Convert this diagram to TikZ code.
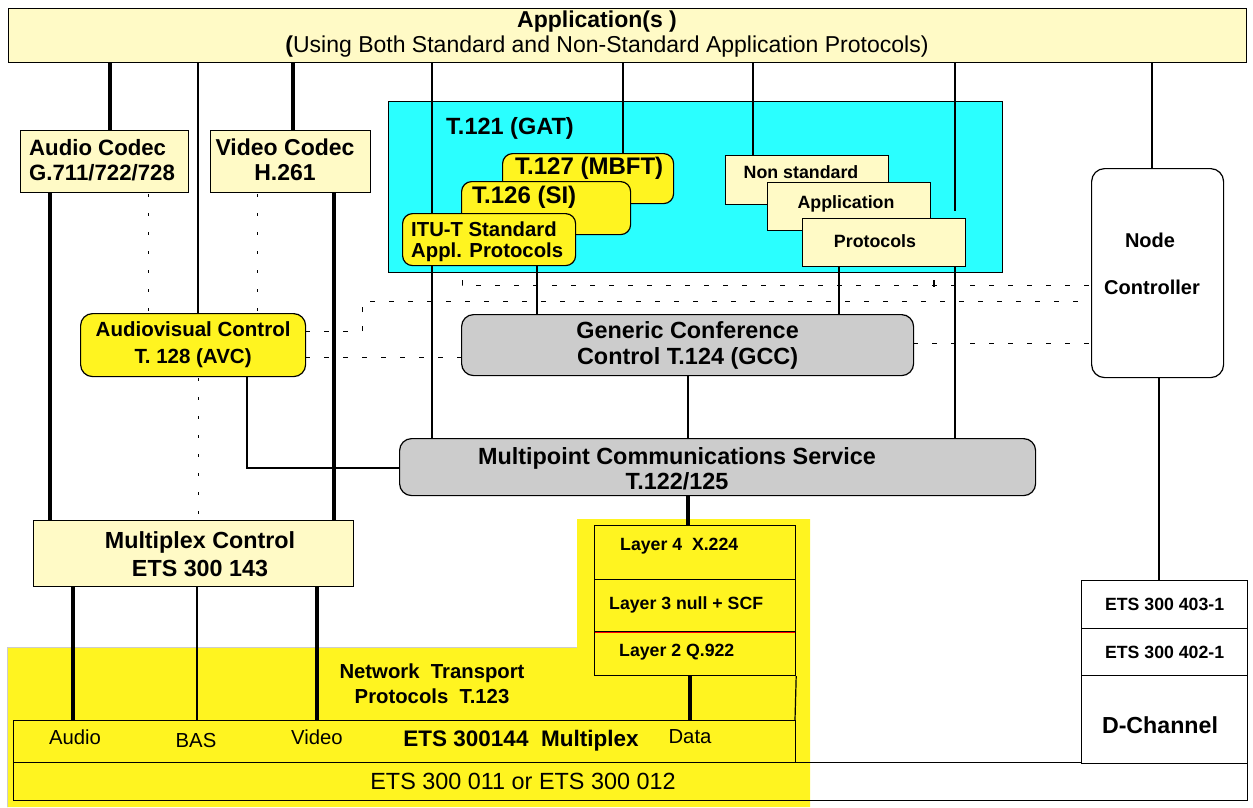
\documentclass[tikz,border=0pt]{standalone}
\usepackage{fontspec}
\setmainfont{Liberation Sans}
\definecolor{lyel}{RGB}{255,250,198}
\definecolor{cyanb}{RGB}{42,255,255}
\definecolor{yel}{RGB}{255,244,32}
\definecolor{greyb}{RGB}{204,204,204}
\newcommand{\fs}[2]{\fontsize{#1}{#2}\selectfont}
\begin{document}
\begin{tikzpicture}[x=1pt,y=-1pt,
  box/.style={draw, line width=1.2pt, inner sep=0pt, anchor=north west, align=center},
  rbox/.style={box, rounded corners=12pt},
  thin/.style={line width=1.1pt},
  thickl/.style={line width=4.5pt},
  dotl/.style={line width=1pt, dash pattern=on 3pt off 16pt},
  dsh/.style={line width=1pt, dash pattern=on 5pt off 14pt},
  txt/.style={inner sep=0pt, font=\bfseries, align=center}
]
\useasboundingbox (0,0) rectangle (1253,807);
% lanes
\foreach \n/\x in {50/50,73/73,110/110,148/148,197/197,198/198,247/247,257/257,293/293,317/317,334/334,432/432,537/537,623/623,688/688,690/690,753/753,839/839,955/955,1152/1152,1159/1159}
  {\coordinate (L\n) at (\x,0);}
% yellow transport region
\fill[yel] (577,519) -- (810,519) -- (810,807) -- (7,807) -- (7,647) -- (577,647) -- cycle;
\draw[gray!40, line width=1pt] (7,807) -- (7,647) -- (577,647);
% top application box
\node[box, fill=lyel, minimum width=1238pt, minimum height=54pt] (app) at (8,8) {};
\node[txt, font=\bfseries\fs{23}{26}] (appt1) at (597,22) {Application(s )};
\node[txt, font=\fs{23}{26}] (appt2) at (607,47) {\textbf{(}Using Both Standard and Non-Standard Application Protocols)};
% T.121 cyan box
\node[box, fill=cyanb, minimum width=614pt, minimum height=171pt] (t121) at (388,101) {};
\node[txt, anchor=west, font=\bfseries\fs{23.5}{26}] (gat) at (446,128) {T.121 (GAT)};
% lines
\draw[thickl] (app.south -| L110) -- (L110 |- 0,130);
\draw[thickl] (app.south -| L293) -- (L293 |- 0,130);
\draw[thin] (app.south -| L198) -- (L198 |- 0,313);
\draw[thin] (app.south -| L432) -- (L432 |- 0,438);
\draw[thin] (app.south -| L623) -- (L623 |- 0,153);
\draw[thin] (app.south -| L753) -- (L753 |- 0,155);
\coordinate (e955) at (955,211);
\draw[thin] (app.south -| L955) -- (e955);
\draw[thin] (app.south -| L1152) -- (L1152 |- 0,168);
\draw[thin] (L955 |- 0,266) -- (L955 |- 0,438);
\draw[thin] (L537 |- 0,265) -- (L537 |- 0,314);
\draw[thin] (L839 |- 0,266) -- (L839 |- 0,314);
\draw[thin] (L688 |- 0,375) -- (L688 |- 0,438);
\draw[thin] (L1159 |- 0,377) -- (L1159 |- 0,580);
\draw[thickl] (L50 |- 0,192) -- (L50 |- 0,520);
\draw[thickl] (L334 |- 0,192) -- (L334 |- 0,520);
\draw[dotl] (L148 |- 0,194) -- (L148 |- 0,313);
\draw[dotl] (L257 |- 0,194) -- (L257 |- 0,313);
\draw[dotl] (L198 |- 0,378) -- (L198 |- 0,520);
\draw[thin] (L247 |- 0,376) |- (399,468);
\draw[thickl] (L688 |- 0,495) -- (L688 |- 0,525);
\draw[thickl] (L690 |- 0,675) -- (L690 |- 0,720);
\draw[thickl] (L73 |- 0,586) -- (L73 |- 0,720);
\draw[thin] (L197 |- 0,586) -- (L197 |- 0,720);
\draw[thickl] (L317 |- 0,586) -- (L317 |- 0,720);
% dashed signalling lines
\coordinate (d1s) at (462,280); \coordinate (d1) at (462,285);
\draw[dsh] (d1s) -- (d1) -- (1091,285);
\coordinate (tk) at (934,280);
\draw[line width=1.6pt] (tk) -- (934,287);
\coordinate (d2) at (362,301); \coordinate (d2b) at (362,331);
\draw[dsh] (305,331) -- (d2b) -- (d2) -- (1091,301);
\draw[dsh] (305,357) -- (461,357);
\draw[dsh] (913,343) -- (1091,343);
% codecs
\node[box, fill=lyel, minimum width=168pt, minimum height=62pt] (acod) at (20,130) {};
\node[txt, anchor=west, align=left, font=\bfseries\fs{22.2}{25}] (acodt) at (29,160) {Audio Codec\\G.711/722/728};
\node[box, fill=lyel, minimum width=160pt, minimum height=62pt] (vcod) at (210,130) {};
\node[txt, font=\bfseries\fs{23}{25}] (vcodt) at (285,160) {Video Codec\\H.261};
% AVC
\node[rbox, fill=yel, minimum width=225pt, minimum height=63pt, font=\bfseries\fs{20.5}{27}] (avc) at (80,313)
  {Audiovisual Control\\T. 128 (AVC)};
% ITU protocol stack
\node[box, rounded corners=10pt, fill=yel, minimum width=171pt, minimum height=50pt] (t127) at (502,153) {};
\node[txt, anchor=west, font=\bfseries\fs{24}{26}] (t127t) at (515,168) {T.127 (MBFT)};
\node[box, rounded corners=10pt, fill=yel, minimum width=169pt, minimum height=53pt] (t126) at (461,181) {};
\node[txt, anchor=west, font=\bfseries\fs{24}{26}] (t126t) at (472,197) {T.126 (SI)};
\node[box, rounded corners=10pt, fill=yel, minimum width=173pt, minimum height=52pt] (itu) at (402,213) {};
\node[txt, anchor=west, align=left, font=\bfseries\fs{20.3}{21}] (itut) at (411,242) {ITU-T Standard\\Appl. Protocols};
% non-standard stack
\node[box, fill=lyel, minimum width=163pt, minimum height=49pt] (nons) at (725,155) {};
\node[txt, font=\bfseries\fs{17.8}{20}] (nonst) at (801,172) {Non standard};
\node[box, fill=lyel, minimum width=163pt, minimum height=48pt] (appl) at (767,182) {};
\node[txt, font=\bfseries\fs{17.8}{20}] (applt) at (846,204) {Application};
\node[box, fill=lyel, minimum width=163pt, minimum height=48pt] (prot) at (802,218) {};
\node[txt, font=\bfseries\fs{17.8}{20}] (prott) at (875,241) {Protocols};
% node controller
\node[box, rounded corners=13pt, fill=white, minimum width=132pt, minimum height=209pt] (nc) at (1091,168) {};
\node[txt, font=\bfseries\fs{20}{22}] (nct1) at (1150,240) {Node};
\node[txt, font=\bfseries\fs{20}{22}] (nct2) at (1152,287) {Controller};
% GCC and MCS
\node[rbox, fill=greyb, minimum width=452pt, minimum height=61pt, font=\bfseries\fs{23.4}{26}] (gcc) at (461,314)
  {Generic Conference\\Control T.124 (GCC)};
\node[rbox, fill=greyb, minimum width=636pt, minimum height=57pt] (mcs) at (399,438) {};
\node[txt, font=\bfseries\fs{23.4}{25}] (mcst) at (677,469) {Multipoint Communications Service\\T.122/125};
% multiplex control
\node[box, fill=lyel, minimum width=320pt, minimum height=66pt] (mc) at (33,520) {};
\node[txt, font=\bfseries\fs{23.3}{28}] (mct) at (200,554) {Multiplex Control\\ETS 300 143};
% layers
\node[box, minimum width=201pt, minimum height=54pt] (l4) at (594,525) {};
\node[txt, anchor=west, font=\bfseries\fs{17.7}{20}] (l4t) at (620,546) {Layer 4\ \ X.224};
\node[box, minimum width=201pt, minimum height=52pt] (l3) at (594,579) {};
\node[txt, anchor=west, font=\bfseries\fs{17.7}{20}] (l3t) at (609,605) {Layer 3 null + SCF};
\node[box, minimum width=201pt, minimum height=44pt] (l2) at (594,631) {};
\node[txt, anchor=west, font=\bfseries\fs{17.7}{20}] (l2t) at (619,652) {Layer 2 Q.922};
\draw[red, line width=1pt] ([xshift=1pt]l3.south west) -- ([xshift=-1pt]l3.south east);
\draw[line width=1.2pt] (l2.south east) -- (795,720);
% network transport label
\node[txt, font=\bfseries\fs{20.3}{25}] (ntp) at (432,684) {Network\ \ Transport\\Protocols\ \ T.123};
% multiplex and physical boxes
\node[box, minimum width=782pt, minimum height=42pt] (mux) at (13,720) {};
\node[txt, font=\fs{20.3}{22}] (aud) at (75,737) {Audio};
\node[txt, font=\fs{20.3}{22}] (bas) at (196,740) {BAS};
\node[txt, font=\fs{20.3}{22}] (vid) at (317,737) {Video};
\node[txt, font=\bfseries\fs{22.5}{24}] (muxt) at (521,741) {ETS 300144\ \ Multiplex};
\node[txt, font=\fs{20.3}{22}] (dat) at (690,737) {Data};
\node[box, minimum width=1234pt, minimum height=38pt] (isdn) at (13,762) {};
\node[txt, font=\fs{23.4}{25}] (isdnt) at (523,781) {ETS 300 011 or ETS 300 012};
% D-channel stack
\node[box, fill=white, minimum width=166pt, minimum height=48pt, font=\bfseries\fs{17.7}{20}] (e403) at (1081,580) {ETS 300 403-1};
\node[box, fill=white, minimum width=166pt, minimum height=47pt, font=\bfseries\fs{17.7}{20}] (e402) at (1081,628) {ETS 300 402-1};
\node[box, fill=white, minimum width=166pt, minimum height=88pt] (dch) at (1081,675) {};
\node[txt, font=\bfseries\fs{23.2}{25}] (dcht) at (1160,725) {D-Channel};
\end{tikzpicture}
\end{document}
